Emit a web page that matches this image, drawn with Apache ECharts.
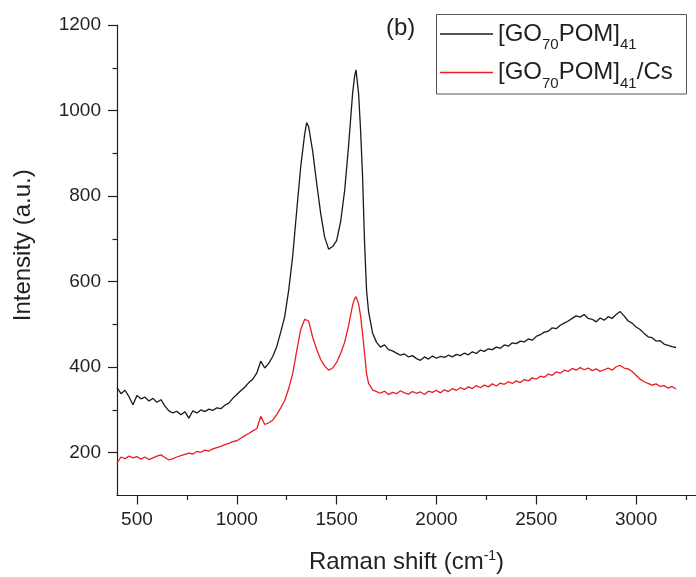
<!DOCTYPE html>
<html>
<head>
<meta charset="utf-8">
<script src="https://cdn.jsdelivr.net/npm/echarts@6/dist/echarts.min.js"></script>
<style>
html,body{margin:0;padding:0;background:#fff;}
#main{width:696px;height:577px;}
</style>
</head>
<body>
<div id="main"></div>
<script>
// Raman shift positions (cm-1)
var ramanShift = [
 400,420,440,460,480,500,520,540,560,580,
 600,620,640,660,680,700,720,740,760,780,
 800,820,840,860,880,900,920,940,960,980,
 1000,1020,1040,1060,1080,1100,1120,1140,1160,1180,
 1200,1220,1240,1260,1280,1300,1320,1340,
 1350,
 1360,1380,1400,1420,1440,1460,1480,1500,1520,1540,1560,1580,
 1590,1597,1610,1620,1630,1640,1650,1660,
 1680,1700,1720,1740,1760,1780,1800,1820,1840,1860,
 1880,1900,1920,1940,1960,1980,2000,2020,2040,2060,
 2080,2100,2120,2140,2160,2180,2200,2220,2240,2260,
 2280,2300,2320,2340,2360,2380,2400,2420,2440,2460,
 2480,2500,2520,2540,2560,2580,2600,2620,2640,2660,
 2680,2700,2720,2740,2760,2780,2800,2820,2840,2860,
 2880,2900,2920,2940,2960,2980,3000,3020,3040,3060,
 3080,3100,3120,3140,3160,3180,3200
];
// [GO70POM]41
var intensityGO = [
 352,338,346,331,312,334,326,330,321,327,
 318,324,309,298,293,297,289,296,281,298,
 293,300,296,302,299,305,303,311,316,327,
 336,345,353,364,372,386,414,398,409,425,
 448,482,518,580,660,765,868,945,
 972,
 962,905,830,760,704,676,682,696,740,812,918,1040,
 1080,1095,1040,955,845,690,580,530,
 480,458,447,452,441,438,433,428,431,424,
 427,420,416,424,419,426,421,425,423,428,
 424,430,427,433,429,436,432,440,437,443,
 441,447,444,452,449,457,455,461,459,466,
 463,472,476,482,484,492,490,498,503,508,
 514,520,517,523,514,512,506,515,510,518,
 514,523,530,520,508,503,494,488,479,471,
 469,461,462,454,451,448,446
];
// [GO70POM]41/Cs
var intensityGOCs = [
 176,190,186,192,188,191,185,190,184,188,
 192,195,189,183,186,190,193,196,199,197,
 203,201,206,204,209,212,215,219,222,226,
 228,234,240,245,251,256,285,266,270,276,
 289,305,322,350,385,438,488,512,
 516,
 508,470,442,418,403,393,398,411,432,458,497,545,
 560,565,548,520,478,432,385,362,
 347,343,339,344,336,341,338,345,340,337,
 343,339,342,336,344,341,346,340,347,343,
 350,346,352,348,354,350,357,352,358,354,
 361,356,363,360,366,362,368,364,371,368,
 375,372,379,376,384,381,389,386,393,390,
 397,393,399,394,398,392,396,390,394,398,
 393,401,404,398,396,390,381,372,366,362,
 358,361,355,357,351,355,349
];
var seriesNames = ['[GO70POM]41', '[GO70POM]41/Cs'];
var legendRich = {'[GO70POM]41': '[GO{sub|70}POM]{sub|41}', '[GO70POM]41/Cs': '[GO{sub|70}POM]{sub|41}/Cs'};
var xMajorTicks = [500,1000,1500,2000,2500,3000];
var xMinorTicks = [750,1250,1750,2250,2750,3250];
var yMajorTicks = [200,400,600,800,1000,1200];
var yMinorTicks = [300,500,700,900,1100];

var FONT = "'Liberation Sans', Arial, Helvetica, sans-serif";
var INK = '#231f20';

function pairs(xs, ys){ return xs.map(function(x,i){ return [x, ys[i]]; }); }
function plain(v){ return String(v); }

var chart = echarts.init(document.getElementById('main'), null, {renderer:'canvas'});
var axisCommonX = {
  type:'value', min:400, max:3300, position:'bottom',
  splitLine:{show:false}
};
var axisCommonY = {
  type:'value', min:100, max:1200, position:'left',
  splitLine:{show:false}
};
chart.setOption({
  animation:false,
  backgroundColor:'#fff',
  textStyle:{fontFamily:FONT},
  grid:{left:117, right:0, top:25, bottom:81.5, outerBoundsMode:'none', containLabel:false},
  xAxis:[
    Object.assign({}, axisCommonX, {
      name:'Raman shift (cm{sup|-1})',
      nameLocation:'middle', nameGap:54, nameMoveOverlap:false,
      nameTextStyle:{fontSize:24, color:INK, fontFamily:FONT,
        rich:{sup:{fontSize:14, color:INK, fontFamily:FONT, padding:[0,0,12,0]}}},
      axisLine:{show:true, onZero:false, lineStyle:{color:INK, width:1.2}},
      axisTick:{show:true, inside:false, length:9, customValues:xMajorTicks, lineStyle:{color:INK, width:1.2}},
      axisLabel:{show:true, margin:15, fontSize:19, color:INK, fontFamily:FONT, customValues:xMajorTicks, formatter:plain}
    }),
    Object.assign({}, axisCommonX, {
      axisLine:{show:false},
      axisTick:{show:true, inside:false, length:4.5, customValues:xMinorTicks, lineStyle:{color:INK, width:1.2}},
      axisLabel:{show:false}
    })
  ],
  yAxis:[
    Object.assign({}, axisCommonY, {
      name:'Intensity (a.u.)',
      nameLocation:'middle', nameGap:82, nameMoveOverlap:false,
      nameTextStyle:{fontSize:24, color:INK, fontFamily:FONT, padding:[0,0,0,30]},
      axisLine:{show:true, onZero:false, lineStyle:{color:INK, width:1.2}},
      axisTick:{show:true, inside:false, length:9, customValues:yMajorTicks, lineStyle:{color:INK, width:1.2}},
      axisLabel:{show:true, margin:16, fontSize:19, color:INK, fontFamily:FONT, customValues:yMajorTicks, formatter:plain}
    }),
    Object.assign({}, axisCommonY, {
      axisLine:{show:false},
      axisTick:{show:true, inside:false, length:4.5, customValues:yMinorTicks, lineStyle:{color:INK, width:1.2}},
      axisLabel:{show:false}
    })
  ],
  legend:{
    show:true, orient:'vertical', left:440, top:22, padding:0, itemGap:8,
    icon:'rect', itemWidth:53, itemHeight:1.3,
    data:seriesNames,
    formatter:function(n){ return legendRich[n] || n; },
    textStyle:{fontSize:24, color:INK, fontFamily:FONT,
      rich:{sub:{fontSize:15, color:INK, fontFamily:FONT, padding:[22,0,0,0]}}}
  },
  graphic:[
    {type:'rect', shape:{x:436.5, y:14.5, width:250, height:79.5},
     style:{fill:'none', stroke:'#555', lineWidth:1}, z:100, silent:true},
    {type:'text', left:386, top:16, style:{text:'(b)', fontSize:24, fill:INK, fontFamily:FONT}, z:100}
  ],
  series:[
    {name:seriesNames[0], type:'line', xAxisIndex:0, yAxisIndex:0, data:pairs(ramanShift, intensityGO),
     symbol:'none', showSymbol:false, smooth:false, lineStyle:{color:'#1a1a1a', width:1.3}, itemStyle:{color:'#1a1a1a'}},
    {name:seriesNames[1], type:'line', xAxisIndex:0, yAxisIndex:0, data:pairs(ramanShift, intensityGOCs),
     symbol:'none', showSymbol:false, smooth:false, lineStyle:{color:'#ec1c24', width:1.3}, itemStyle:{color:'#ec1c24'}}
  ]
});
</script>
</body>
</html>
